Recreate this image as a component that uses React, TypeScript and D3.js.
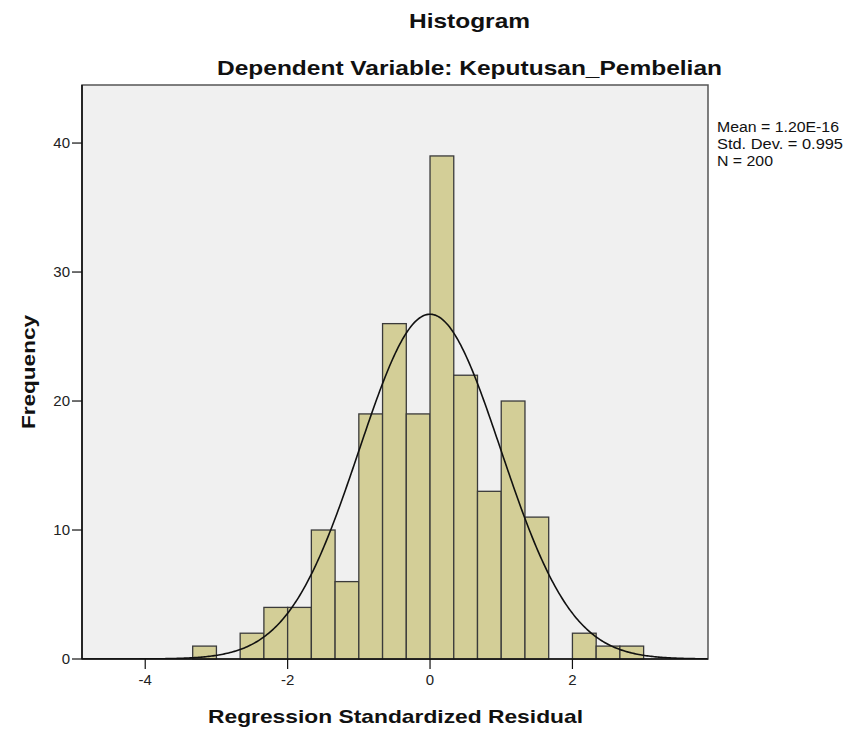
import React from "react";
import * as d3 from "d3";

const binStart = -10 / 3;
const binWidth = 1 / 3;
const counts = [1, 0, 2, 4, 4, 10, 6, 19, 26, 19, 39, 22, 13, 20, 11, 0, 2, 1, 1];
const xTicks = [-4, -2, 0, 2];
const yTicks = [0, 10, 20, 30, 40];
const statsLines = ["Mean = 1.20E-16", "Std. Dev. = 0.995", "N = 200"];
const statsWidths = [122, 126, 56];
const meanVal = 0;
const sdVal = 0.995;
const nVal = 200;

const W = 851;
const H = 729;
const L = 82, R = 708, T = 85, B = 659;

export default function App() {
  const x = d3.scaleLinear().domain([-4.888, 3.904]).range([L, R]);
  const y = d3.scaleLinear().domain([0, 44.5]).range([B, T]);
  const bins = counts.map((c, i) => ({ x0: binStart + i * binWidth, x1: binStart + (i + 1) * binWidth, c }));
  const curveXs = d3.range(-4.888, 3.904 + 0.001, 0.02);
  const k = (nVal * binWidth) / (sdVal * Math.sqrt(2 * Math.PI));
  const curve = d3
    .line<number>()
    .x((v) => x(v))
    .y((v) => y(k * Math.exp(-0.5 * ((v - meanVal) / sdVal) ** 2)))(curveXs);
  const font = "Arial, 'Liberation Sans', sans-serif";
  return (
    <svg width={W} height={H} style={{ position: "absolute", left: 0, top: 0, background: "#fff" }} fontFamily={font}>
      <rect x={0} y={0} width={W} height={H} fill="#fff" />
      <text x={409} y={28} fontSize={21} fontWeight="bold" fill="#111" textLength={121} lengthAdjust="spacingAndGlyphs">Histogram</text>
      <text x={217} y={75} fontSize={21} fontWeight="bold" fill="#111" textLength={505} lengthAdjust="spacingAndGlyphs">Dependent Variable: Keputusan_Pembelian</text>
      <rect x={L} y={T} width={R - L} height={B - T} fill="#f0f0f0" stroke="#555" strokeWidth={1.5} />
      <clipPath id="pc"><rect x={L} y={T} width={R - L} height={B - T} /></clipPath>
      {bins.filter((b) => b.c > 0).map((b, i) => (
        <rect key={i} x={x(b.x0)} y={y(b.c)} width={x(b.x1) - x(b.x0)} height={y(0) - y(b.c)} fill="#d3ce97" stroke="#3a3a3a" strokeWidth={1.3} />
      ))}
      <path d={curve || ""} fill="none" stroke="#111" strokeWidth={1.6} clipPath="url(#pc)" />
      <line x1={L} y1={T} x2={L} y2={B} stroke="#111" strokeWidth={1.6} />
      <line x1={L} y1={B} x2={R} y2={B} stroke="#111" strokeWidth={1.6} />
      {yTicks.map((t) => (
        <g key={t}>
          <line x1={L - 10} x2={L} y1={y(t)} y2={y(t)} stroke="#111" strokeWidth={1.2} />
          <text x={L - 12} y={y(t)} dy="0.36em" textAnchor="end" fontSize={15} fill="#222">{t}</text>
        </g>
      ))}
      {xTicks.map((t) => (
        <g key={t}>
          <line x1={x(t)} x2={x(t)} y1={B} y2={B + 10} stroke="#111" strokeWidth={1.2} />
          <text x={x(t)} y={B + 26} textAnchor="middle" fontSize={15} fill="#222">{t}</text>
        </g>
      ))}
      <text x={208} y={723} fontSize={19} fontWeight="bold" fill="#111" textLength={375} lengthAdjust="spacingAndGlyphs">Regression Standardized Residual</text>
      <text transform={`translate(35,${(T + B) / 2}) rotate(-90)`} x={-57} y={0} fontSize={19} fontWeight="bold" fill="#111" textLength={114} lengthAdjust="spacingAndGlyphs">Frequency</text>
      {statsLines.map((s, i) => (
        <text key={i} x={717} y={132 + i * 17} fontSize={14} fill="#111" textLength={statsWidths[i]} lengthAdjust="spacingAndGlyphs">{s}</text>
      ))}
    </svg>
  );
}
